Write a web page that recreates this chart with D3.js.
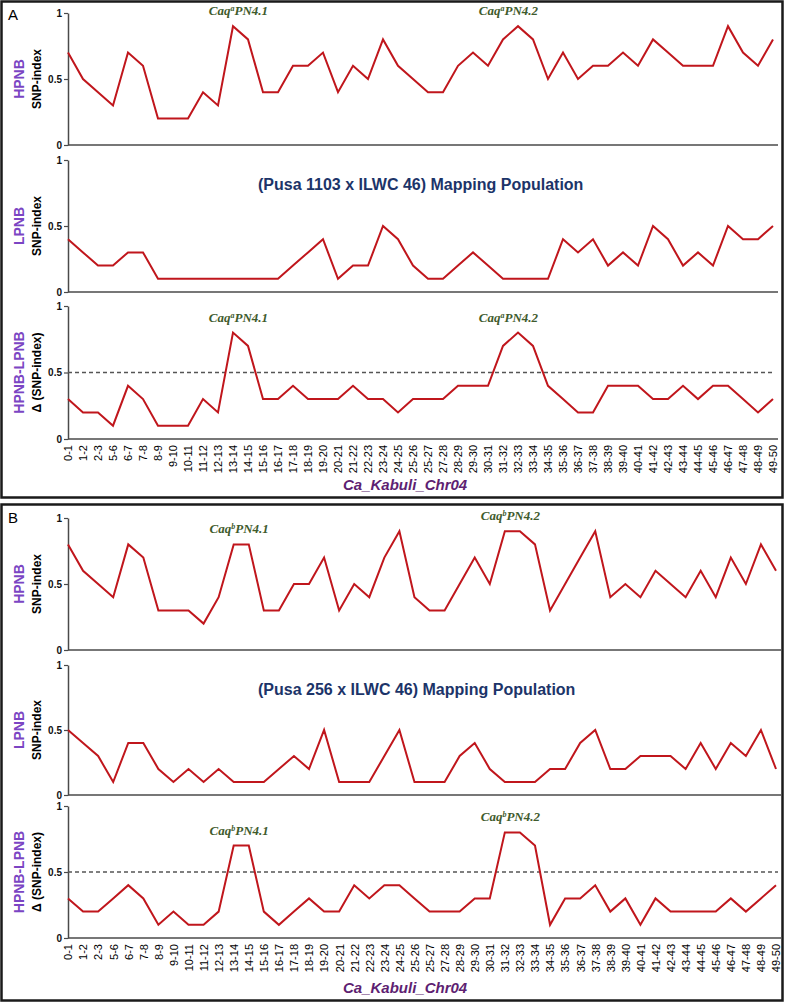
<!DOCTYPE html>
<html>
<head>
<meta charset="utf-8">
<script src="https://cdn.jsdelivr.net/npm/d3@7/dist/d3.min.js"></script>
<style>
  html, body { margin: 0; padding: 0; background: #fff; }
  svg { display: block; font-family: "Liberation Sans", Arial, sans-serif; }
</style>
</head>
<body>
<svg id="chart" width="790" height="1002"></svg>
<script>
// ---------------- DATA ----------------
const categories = ["0-1","1-2","2-3","5-6","6-7","7-8","8-9","9-10","10-11","11-12","12-13","13-14","14-15","15-16","16-17","17-18","18-19","19-20","20-21","21-22","22-23","23-24","24-25","25-26","25-27","27-28","28-29","29-30","30-31","31-32","32-33","33-34","34-35","35-36","36-37","37-38","38-39","39-40","40-41","41-42","42-43","43-44","44-45","45-46","46-47","47-48","48-49","49-50"];

const yTicks = [0, 0.5, 1];
const yTickLabels = ["0", "0.5", "1"];

// Panel A: (Pusa 1103 x ILWC 46)
const hpnbA  = [0.7,0.5,0.4,0.3,0.7,0.6,0.2,0.2,0.2,0.4,0.3,0.9,0.8,0.4,0.4,0.6,0.6,0.7,0.4,0.6,0.5,0.8,0.6,0.5,0.4,0.4,0.6,0.7,0.6,0.8,0.9,0.8,0.5,0.7,0.5,0.6,0.6,0.7,0.6,0.8,0.7,0.6,0.6,0.6,0.9,0.7,0.6,0.8];
const lpnbA  = [0.4,0.3,0.2,0.2,0.3,0.3,0.1,0.1,0.1,0.1,0.1,0.1,0.1,0.1,0.1,0.2,0.3,0.4,0.1,0.2,0.2,0.5,0.4,0.2,0.1,0.1,0.2,0.3,0.2,0.1,0.1,0.1,0.1,0.4,0.3,0.4,0.2,0.3,0.2,0.5,0.4,0.2,0.3,0.2,0.5,0.4,0.4,0.5];
const deltaA = [0.3,0.2,0.2,0.1,0.4,0.3,0.1,0.1,0.1,0.3,0.2,0.8,0.7,0.3,0.3,0.4,0.3,0.3,0.3,0.4,0.3,0.3,0.2,0.3,0.3,0.3,0.4,0.4,0.4,0.7,0.8,0.7,0.4,0.3,0.2,0.2,0.4,0.4,0.4,0.3,0.3,0.4,0.3,0.4,0.4,0.3,0.2,0.3];

// Panel B: (Pusa 256 x ILWC 46)
const hpnbB  = [0.8,0.6,0.5,0.4,0.8,0.7,0.3,0.3,0.3,0.2,0.4,0.8,0.8,0.3,0.3,0.5,0.5,0.7,0.3,0.5,0.4,0.7,0.9,0.4,0.3,0.3,0.5,0.7,0.5,0.9,0.9,0.8,0.3,0.5,0.7,0.9,0.4,0.5,0.4,0.6,0.5,0.4,0.6,0.4,0.7,0.5,0.8,0.6];
const lpnbB  = [0.5,0.4,0.3,0.1,0.4,0.4,0.2,0.1,0.2,0.1,0.2,0.1,0.1,0.1,0.2,0.3,0.2,0.5,0.1,0.1,0.1,0.3,0.5,0.1,0.1,0.1,0.3,0.4,0.2,0.1,0.1,0.1,0.2,0.2,0.4,0.5,0.2,0.2,0.3,0.3,0.3,0.2,0.4,0.2,0.4,0.3,0.5,0.2];
const deltaB = [0.3,0.2,0.2,0.3,0.4,0.3,0.1,0.2,0.1,0.1,0.2,0.7,0.7,0.2,0.1,0.2,0.3,0.2,0.2,0.4,0.3,0.4,0.4,0.3,0.2,0.2,0.2,0.3,0.3,0.8,0.8,0.7,0.1,0.3,0.3,0.4,0.2,0.3,0.1,0.3,0.2,0.2,0.2,0.2,0.3,0.2,0.3,0.4];

const threshold = 0.5;
const panelLetters = ["A", "B"];
const titles = ["(Pusa 1103 x ILWC 46) Mapping Population", "(Pusa 256 x ILWC 46) Mapping Population"];
const qtlSup = ["a", "b"];
const qtlNames = ["PN4.1", "PN4.2"];
const qtlAnchors = [["13-14","14-15"], ["31-32","32-33"]];
const xTitle = "Ca_Kabuli_Chr04";

// ---------------- DRAWING ----------------
const svg = d3.select("#chart");
const RED = "#C0161C", AXIS = "#4a4a4a", PURPLE = "#7B45C3", DPURPLE = "#5E1F72", NAVY = "#1C3469", GREEN = "#3F5B2D";

function caqLabel(g, x, y, sup, name) {
  const t = g.append("text").attr("x", x).attr("y", y)
    .attr("text-anchor", "middle")
    .style("font-family", "'Liberation Serif', 'Times New Roman', serif")
    .style("font-weight", "bold").style("font-style", "italic")
    .style("font-size", "13px").attr("fill", GREEN);
  t.append("tspan").text("Caq");
  t.append("tspan").text(sup).attr("dy", -4).style("font-size", "8px");
  t.append("tspan").text(name).attr("dy", 4);
}

function drawPanel(p, top, xRight, subs, hp, lp, dl) {
  const g = svg.append("g");
  // border
  g.append("rect").attr("x", 1.5).attr("y", top + 1.5).attr("width", 781).attr("height", 496)
    .attr("fill", "none").attr("stroke", "#1a1a1a").attr("stroke-width", 2.5);
  g.append("text").attr("x", 8).attr("y", top + 20).text(panelLetters[p])
    .style("font-size", "15px").attr("fill", "#000");

  const x = d3.scalePoint().domain(categories).range([68, xRight]).padding(0);
  const series = [hp, lp, dl];
  const lab1 = ["HPNB", "LPNB", "HPNB-LPNB"];
  const lab2 = ["SNP-index", "SNP-index", "\u0394 (SNP-index)"];

  subs.forEach((s, i) => {
    const y = d3.scaleLinear().domain([0, 1]).range([top + s[1], top + s[0]]);
    const sg = g.append("g");
    // y axis
    const ya = sg.append("g").attr("transform", "translate(68,0)")
      .call(d3.axisLeft(y).tickValues(yTicks).tickSizeInner(4).tickSizeOuter(0).tickPadding(2)
        .tickFormat((d, k) => yTickLabels[k]));
    ya.select(".domain").attr("stroke", AXIS).attr("stroke-width", 1.5);
    ya.selectAll(".tick line").attr("stroke", AXIS).attr("stroke-width", 1.2);
    ya.selectAll(".tick text").style("font-size", "10px").style("font-weight", "bold")
      .style("font-family", "'Liberation Sans', Arial, sans-serif").attr("fill", "#111");
    // x axis line
    const xa = sg.append("g").attr("transform", `translate(0,${y(0)})`)
      .call(d3.axisBottom(x).tickSize(0).tickPadding(6));
    xa.select(".domain").remove();
    sg.append("line").attr("x1", 68).attr("x2", xRight + 5).attr("y1", y(0)).attr("y2", y(0))
      .attr("stroke", AXIS).attr("stroke-width", 1.5);
    if (i === 2) {
      xa.selectAll(".tick text")
        .attr("transform", "rotate(-90)")
        .attr("text-anchor", "end")
        .attr("x", -6).attr("y", 0).attr("dy", "0.35em")
        .style("font-size", "11px")
        .style("font-family", "'Liberation Sans', Arial, sans-serif").attr("fill", "#000");
      // threshold
      sg.append("line").attr("x1", 68).attr("x2", xRight + 2)
        .attr("y1", y(threshold)).attr("y2", y(threshold))
        .attr("stroke", "#555").attr("stroke-width", 1.5).attr("stroke-dasharray", "4,3");
    } else {
      xa.selectAll(".tick").remove();
    }
    // labels
    const cy = (y(0) + y(1)) / 2;
    sg.append("text").attr("transform", `translate(24,${cy}) rotate(-90)`)
      .attr("text-anchor", "middle").text(lab1[i])
      .style("font-size", "14px").style("font-weight", "bold").attr("fill", PURPLE);
    sg.append("text").attr("transform", `translate(41,${cy}) rotate(-90)`)
      .attr("text-anchor", "middle").text(lab2[i])
      .style("font-size", "12px").style("font-weight", "bold").attr("fill", "#000");
    // data line
    const line = d3.line().x((d, k) => x(categories[k])).y(d => y(d));
    sg.append("path").datum(series[i]).attr("d", line)
      .attr("fill", "none").attr("stroke", RED).attr("stroke-width", 2).attr("stroke-linejoin", "miter");
    // QTL annotations (HPNB and delta)
    if (i !== 1) {
      qtlAnchors.forEach((a, k) => {
        const idx = a.map(c => categories.indexOf(c));
        const peak = d3.max(idx, j => series[i][j]);
        const cx = d3.mean(a, c => x(c)) - 2;
        caqLabel(sg, cx, y(peak) - 11, qtlSup[p], qtlNames[k]);
      });
    }
    if (i === 1) {
      sg.append("text").attr("x", 258).attr("y", top + s[0] + 30).text(titles[p])
        .style("font-size", "16px").style("font-weight", "bold").attr("fill", NAVY);
    }
  });
  g.append("text").attr("x", 343).attr("y", top + 490).text(xTitle)
    .style("font-size", "15px").style("font-weight", "bold").style("font-style", "italic")
    .attr("fill", DPURPLE);
}

drawPanel(0, 0, 773, [[13,145],[160,292],[306,439]], hpnbA, lpnbA, deltaA);
drawPanel(1, 503, 776, [[15,147],[162,292],[303,435]], hpnbB, lpnbB, deltaB);
</script>
</body>
</html>
